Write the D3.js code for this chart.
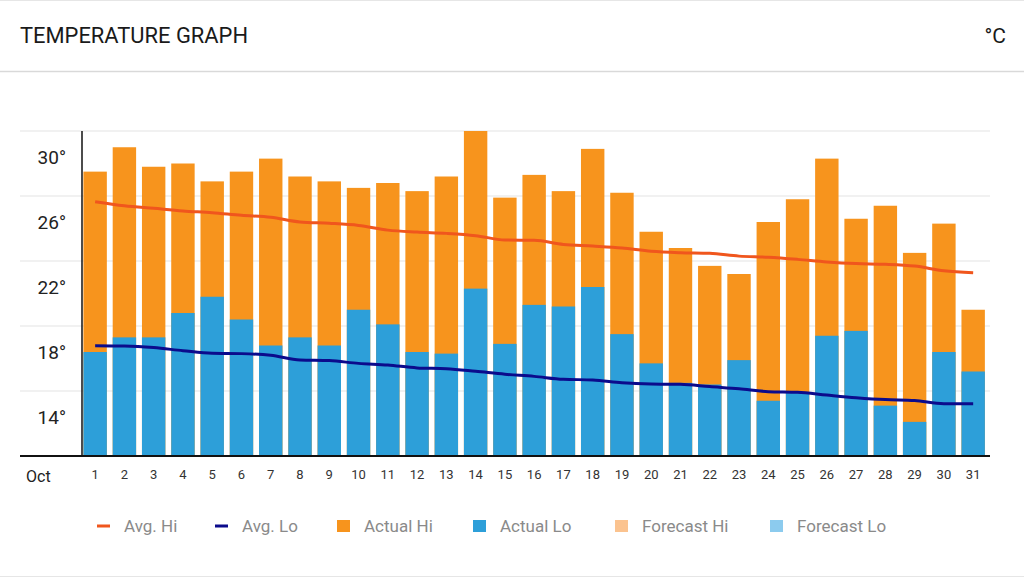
<!DOCTYPE html>
<html><head><meta charset="utf-8">
<script src="https://cdn.jsdelivr.net/npm/d3@7"></script>
<style>
html,body{margin:0;padding:0;background:#fff;}
svg{display:block;font-family:Roboto,"DejaVu Sans",sans-serif;}
</style></head>
<body>
<svg id="c" width="1024" height="578"></svg>
<script>
const days = d3.range(1, 32).map(String);
const actualHi = [29.5,31.0,29.8,30.0,28.9,29.5,30.3,29.2,28.9,28.5,28.8,28.3,29.2,32.0,27.9,29.3,28.3,30.9,28.2,25.8,24.8,23.7,23.2,26.4,27.8,30.3,26.6,27.4,24.5,26.3,21.0];
const actualLo = [18.4,19.3,19.3,20.8,21.8,20.4,18.8,19.3,18.8,21.0,20.1,18.4,18.3,22.3,18.9,21.3,21.2,22.4,19.5,17.7,16.5,16.4,17.9,15.4,15.9,19.4,19.7,15.1,14.1,18.4,17.2];
const avgHi = [27.65,27.4,27.24,27.08,26.97,26.81,26.69,26.4,26.32,26.19,25.9,25.78,25.7,25.56,25.29,25.27,25.02,24.92,24.8,24.6,24.51,24.47,24.3,24.23,24.1,23.94,23.84,23.8,23.69,23.4,23.28];
const avgLo = [18.79,18.77,18.67,18.48,18.32,18.3,18.2,17.91,17.87,17.7,17.6,17.42,17.37,17.21,17.03,16.9,16.72,16.68,16.51,16.43,16.41,16.27,16.14,15.96,15.92,15.75,15.59,15.47,15.41,15.22,15.22];
const gridValues = [12,16,20,24,28,32];
const tickValues = [14,18,22,26,30];
const legendItems = ["Avg. Hi","Avg. Lo","Actual Hi","Actual Lo","Forecast Hi","Forecast Lo"];

const C = {hi:"#f7941d", lo:"#2d9fd9", avgHi:"#f0561d", avgLo:"#0b0b8c", fHi:"#fbc38f", fLo:"#8ccbee"};
const svg = d3.select("#c");

// header
svg.append("line").attr("x1",0).attr("x2",1024).attr("y1",0.5).attr("y2",0.5).attr("stroke","#e6e6e6");
svg.append("line").attr("x1",0).attr("x2",1024).attr("y1",71.5).attr("y2",71.5).attr("stroke","#d9d9d9").attr("stroke-width",1.5);
svg.append("line").attr("x1",0).attr("x2",1024).attr("y1",576.5).attr("y2",576.5).attr("stroke","#e6e6e6");
svg.append("text").attr("x",20).attr("y",43).attr("font-size",22).attr("fill","#1a1a1a")
  .attr("textLength",228).attr("lengthAdjust","spacingAndGlyphs").text("TEMPERATURE GRAPH");
svg.append("text").attr("x",1006).attr("y",43).attr("text-anchor","end").attr("font-size",21).attr("fill","#1a1a1a").text("°C");

const x = d3.scaleBand().domain(days).range([80.5, 987.8]).paddingInner(0.2).paddingOuter(0.1);
const y = d3.scaleLinear().domain([12, 32]).range([456, 131]);

// grid
svg.append("g").selectAll("line").data(gridValues).join("line")
  .attr("x1",20).attr("x2",990).attr("y1",d=>y(d)).attr("y2",d=>y(d))
  .attr("stroke","#e3e3e3").attr("stroke-width",1);

// bars
svg.append("g").selectAll("rect").data(days).join("rect")
  .attr("x",d=>x(d)).attr("width",x.bandwidth())
  .attr("y",(d,i)=>y(actualHi[i])).attr("height",(d,i)=>y(12)-y(actualHi[i]))
  .attr("fill",C.hi);
svg.append("g").selectAll("rect").data(days).join("rect")
  .attr("x",d=>x(d)).attr("width",x.bandwidth())
  .attr("y",(d,i)=>y(actualLo[i])).attr("height",(d,i)=>y(12)-y(actualLo[i]))
  .attr("fill",C.lo);

// lines
const line = d3.line().x((d,i)=>x(days[i])+x.bandwidth()/2).y(d=>y(d)).curve(d3.curveMonotoneX);
svg.append("path").datum(avgHi).attr("d",line).attr("fill","none").attr("stroke",C.avgHi).attr("stroke-width",3);
svg.append("path").datum(avgLo).attr("d",line).attr("fill","none").attr("stroke",C.avgLo).attr("stroke-width",3);

// axes
svg.append("line").attr("x1",82).attr("x2",82).attr("y1",131).attr("y2",456).attr("stroke","#111").attr("stroke-width",1.5);
svg.append("line").attr("x1",20).attr("x2",990).attr("y1",456).attr("y2",456).attr("stroke","#111").attr("stroke-width",2);

svg.append("g").selectAll("text").data(tickValues).join("text")
  .attr("x",66).attr("y",d=>y(d)).attr("text-anchor","end")
  .attr("font-size",19).attr("fill","#222").text(d=>d+"°");

const xAxis = d3.axisBottom(x).tickSize(0).tickPadding(0);
const gx = svg.append("g").attr("transform","translate(0,470)").call(xAxis);
gx.select(".domain").remove();
gx.selectAll("text").attr("font-size",13).attr("fill","#333").attr("dy","0.71em")
  .attr("font-family","Roboto,sans-serif");
svg.append("text").attr("x",26).attr("y",482).attr("font-size",16).attr("fill","#222").text("Oct");

// legend
const legX = [97,215,337,473,615,770];
const legColors = [C.avgHi,C.avgLo,C.hi,C.lo,C.fHi,C.fLo];
const lg = svg.append("g").selectAll("g").data(legendItems).join("g")
  .attr("transform",(d,i)=>`translate(${legX[i]},526)`);
lg.each(function(d,i){
  const g = d3.select(this);
  if(i<2) g.append("rect").attr("x",0).attr("y",-1.5).attr("width",13).attr("height",3).attr("fill",legColors[i]);
  else g.append("rect").attr("x",0).attr("y",-6).attr("width",13).attr("height",12).attr("fill",legColors[i]);
  g.append("text").attr("x",27).attr("y",6).attr("font-size",17).attr("fill","#8a8a8a").text(d);
});
</script>
</body></html>
